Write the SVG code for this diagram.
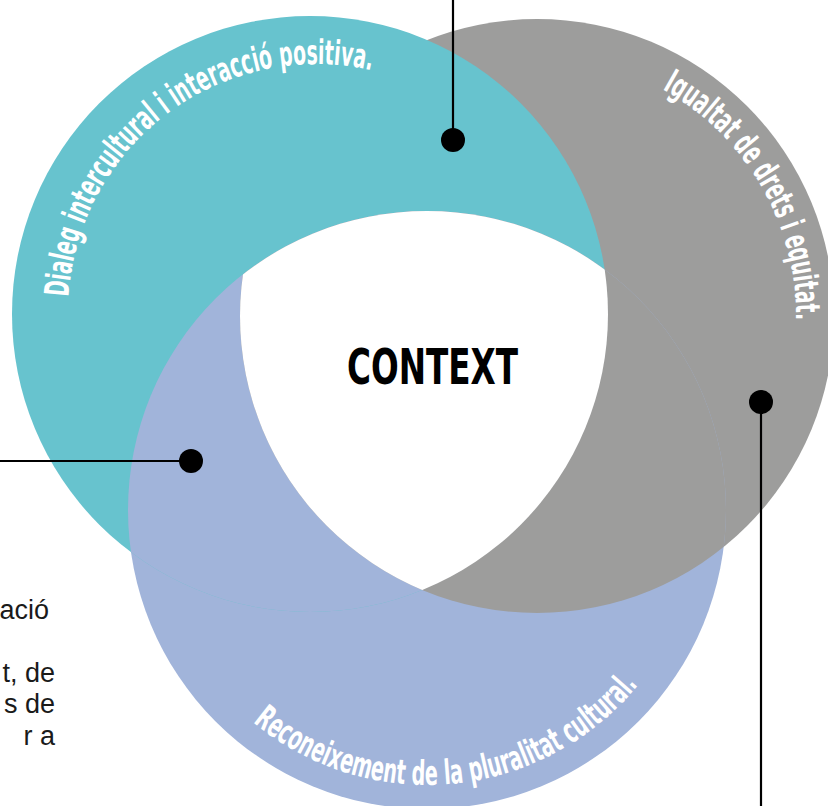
<svg xmlns="http://www.w3.org/2000/svg" width="828" height="806" viewBox="0 0 828 806">
<style>
.arc{font-family:"Liberation Sans Narrow","DejaVu Sans Condensed","Liberation Sans",sans-serif;font-weight:700;font-size:34px;fill:#ffffff;}
.title{font-family:"Liberation Sans Narrow","DejaVu Sans Condensed","Liberation Sans",sans-serif;font-weight:700;font-size:49px;fill:#000000;}
.side{font-family:"Liberation Sans",Arial,sans-serif;font-size:27px;fill:#1a1a1a;}
.lead{stroke:#000;stroke-width:2.2;fill:none;}
.dot{fill:#000;}
</style>
<defs>
<clipPath id="cTeal"><circle cx="310" cy="314" r="298"/></clipPath>
<clipPath id="cGray"><circle cx="537" cy="316" r="297"/></clipPath>
<clipPath id="cBlue"><circle cx="427" cy="510" r="299"/></clipPath>
<path id="pTeal" d="M68.5,296.9 A248,248 0 0 1 371.8,70.4"/>
<path id="pGray" d="M662.3,89.3 A259,259 0 0 1 796,320"/>
<path id="pBlue" d="M253,722.3 A273,273 0 0 0 638.5,684.5"/>
</defs>

<g id="node-igualtat">
<circle cx="537" cy="316" r="297" fill="#9d9d9c"/>
</g>
<g id="node-reconeixement">
<circle cx="427" cy="510" r="299" fill="#a1b4da"/>
</g>
<g id="node-dialeg">
<circle cx="310" cy="314" r="298" fill="#67c3ce"/>
</g>
<g id="overlaps">
<circle cx="427" cy="510" r="299" fill="#a1b4da" clip-path="url(#cTeal)"/>
<circle cx="537" cy="316" r="297" fill="#9d9d9c" clip-path="url(#cBlue)"/>
<g clip-path="url(#cGray)"><circle cx="427" cy="510" r="299" fill="#ffffff" clip-path="url(#cTeal)"/></g>
</g>

<g id="labels">
<text class="arc"><textPath href="#pTeal" textLength="430" lengthAdjust="spacingAndGlyphs">Dialeg intercultural i interacció positiva.</textPath></text>
<text class="arc"><textPath href="#pGray" textLength="280" lengthAdjust="spacingAndGlyphs">Igualtat de drets i equitat.</textPath></text>
<text class="arc"><textPath href="#pBlue" textLength="430" lengthAdjust="spacingAndGlyphs">Reconeixement de la pluralitat cultural.</textPath></text>
</g>

<g id="node-context">
<text class="title" x="432.5" y="384" text-anchor="middle" textLength="171" lengthAdjust="spacingAndGlyphs">CONTEXT</text>
</g>

<g id="connectors">
<line class="lead" x1="453" y1="0" x2="453" y2="140"/>
<circle class="dot" cx="453" cy="140" r="12"/>
<line class="lead" x1="0" y1="461" x2="191" y2="461"/>
<circle class="dot" cx="191" cy="461" r="12"/>
<line class="lead" x1="761" y1="402" x2="761" y2="806"/>
<circle class="dot" cx="761" cy="402" r="12"/>
</g>

<g id="side-text">
<text class="side" x="49" y="619" text-anchor="end">ació</text>
<text class="side" x="55" y="682" text-anchor="end">t, de</text>
<text class="side" x="55" y="713" text-anchor="end">s de</text>
<text class="side" x="55" y="745" text-anchor="end">r a</text>
</g>
</svg>
